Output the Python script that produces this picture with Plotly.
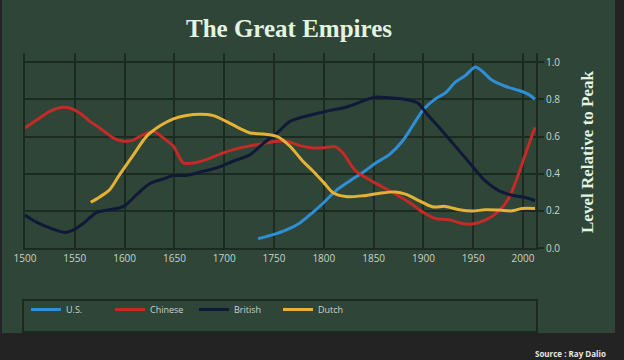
import plotly.graph_objects as go

# ---------------- data ----------------
us_years = [1734, 1749, 1763, 1776, 1789, 1800, 1812, 1826, 1839, 1851, 1866, 1879, 1889, 1900,
            1912, 1922, 1932, 1942, 1952, 1959, 1969, 1982, 1996, 2006, 2012]
us_vals = [0.05, 0.072, 0.099, 0.135, 0.192, 0.245, 0.308, 0.361, 0.406, 0.454, 0.504, 0.576, 0.657, 0.746,
           0.803, 0.835, 0.893, 0.928, 0.975, 0.952, 0.903, 0.871, 0.848, 0.826, 0.80]

cn_years = [1500, 1512, 1525, 1538, 1545, 1555, 1565, 1575, 1589, 1599, 1607, 1619, 1629, 1639, 1649,
            1659, 1669, 1682, 1699, 1716, 1736, 1753, 1763, 1776, 1789, 1800, 1811, 1819, 1832, 1851,
            1869, 1886, 1900, 1912, 1926, 1939, 1949, 1962, 1976, 1986, 1996, 2004, 2012]
cn_vals = [0.646, 0.69, 0.736, 0.758, 0.754, 0.727, 0.682, 0.646, 0.592, 0.575, 0.578, 0.61, 0.628, 0.592, 0.548,
           0.458, 0.458, 0.476, 0.512, 0.539, 0.56, 0.575, 0.575, 0.551, 0.539, 0.54, 0.546, 0.513, 0.415, 0.352,
           0.299, 0.245, 0.191, 0.159, 0.152, 0.132, 0.129, 0.150, 0.20, 0.272, 0.406, 0.531, 0.65]

br_years = [1500, 1512, 1525, 1540, 1547, 1559, 1572, 1585, 1599, 1612, 1625, 1639, 1649, 1662, 1676,
            1692, 1709, 1726, 1739, 1753, 1766, 1779, 1789, 1806, 1822, 1839, 1851, 1866, 1882, 1894,
            1904, 1916, 1929, 1946, 1962, 1976, 1989, 2002, 2012]
br_vals = [0.176, 0.138, 0.108, 0.084, 0.093, 0.135, 0.192, 0.206, 0.224, 0.287, 0.346, 0.372, 0.39, 0.391, 0.409,
           0.431, 0.467, 0.503, 0.562, 0.619, 0.682, 0.706, 0.719, 0.741, 0.758, 0.791, 0.812, 0.809, 0.80, 0.782,
           0.719, 0.648, 0.567, 0.46, 0.361, 0.308, 0.284, 0.272, 0.256]

du_years = [1566, 1575, 1585, 1595, 1609, 1622, 1636, 1649, 1662, 1676, 1689, 1702, 1716, 1726, 1739,
            1753, 1766, 1779, 1789, 1800, 1809, 1822, 1839, 1856, 1872, 1882, 1896, 1909, 1922, 1936,
            1949, 1962, 1976, 1989, 1999, 2012]
du_vals = [0.246, 0.275, 0.314, 0.395, 0.503, 0.601, 0.659, 0.695, 0.713, 0.72, 0.713, 0.682, 0.643, 0.619, 0.614,
           0.601, 0.548, 0.467, 0.415, 0.352, 0.299, 0.277, 0.281, 0.295, 0.302, 0.29, 0.254, 0.222, 0.224, 0.206,
           0.199, 0.206, 0.204, 0.20, 0.213, 0.213]

series_names = ["U.S.", "Chinese", "British", "Dutch"]
series_colors = ["#2e8fd6", "#c42a26", "#101a38", "#e6b236"]

x_ticks = [1500, 1550, 1600, 1650, 1700, 1750, 1800, 1850, 1900, 1950, 2000]
y_ticks = [0.0, 0.2, 0.4, 0.6, 0.8, 1.0]

# ---------------- layout helpers ----------------
W, H = 624, 360
L, R, T, B = 25, 88, 53, 112
PW, PH = W - L - R, H - T - B


def px(x):
    return (x - L) / PW


def py(y):
    return (H - B - y) / PH


GREEN = "#2f4538"
GRID = "#1c2b22"
TEXT = "#c9d3ca"

fig = go.Figure()
for name, xs, ys, col in zip(series_names,
                             [us_years, cn_years, br_years, du_years],
                             [us_vals, cn_vals, br_vals, du_vals],
                             series_colors):
    fig.add_trace(go.Scatter(x=xs, y=ys, name=name, mode="lines",
                             line=dict(color=col, width=3, shape="spline", smoothing=0.8),
                             hoverinfo="skip"))

shapes = [
    # green panel
    dict(type="rect", xref="paper", yref="paper", x0=px(2), x1=px(615), y0=py(333), y1=py(0),
         fillcolor=GREEN, line=dict(width=0), layer="below"),
    # legend box
    dict(type="rect", xref="paper", yref="paper", x0=px(23), x1=px(537), y0=py(332), y1=py(300),
         fillcolor="rgba(0,0,0,0)", line=dict(width=2, color=GRID), layer="below"),
]

annotations = [
    dict(text="<b>The Great Empires</b>", xref="paper", yref="paper", x=px(289), y=py(28),
         xanchor="center", yanchor="middle", showarrow=False,
         font=dict(family="Liberation Serif", size=25, color="#e3f4e1")),
    dict(text="<b>Level Relative to Peak</b>", xref="paper", yref="paper", x=px(587), y=py(152),
         xanchor="center", yanchor="middle", showarrow=False, textangle=-90,
         font=dict(family="Liberation Serif", size=17, color="#e3f4e1")),
    dict(text="<b>Source : Ray Dalio</b>", xref="paper", yref="paper", x=px(608), y=py(353),
         xanchor="right", yanchor="middle", showarrow=False,
         font=dict(family="Open Sans", size=8, color="#e6e6e6")),
]

fig.update_layout(
    width=W, height=H,
    margin=dict(l=L, r=R, t=T, b=B),
    paper_bgcolor="#232323",
    plot_bgcolor="rgba(0,0,0,0)",
    shapes=shapes,
    annotations=annotations,
    showlegend=True,
    legend=dict(orientation="h", x=px(26), y=py(295), xanchor="left", yanchor="top",
                bgcolor="rgba(0,0,0,0)", borderwidth=0,
                font=dict(family="Open Sans", size=9, color=TEXT),
                entrywidth=39, entrywidthmode="pixels", itemwidth=30),
    xaxis=dict(range=[1500, 2013], tickmode="array", tickvals=x_ticks,
               ticktext=[str(v) for v in x_ticks],
               showgrid=True, gridcolor=GRID, gridwidth=1.5,
               showline=True, linecolor=GRID, linewidth=2, zeroline=False,
               ticks="", tickfont=dict(family="Open Sans", size=10, color=TEXT)),
    yaxis=dict(range=[0, 1.05], side="right", tickmode="array", tickvals=y_ticks,
               ticktext=[f"{v:.1f}" for v in y_ticks],
               showgrid=True, gridcolor=GRID, gridwidth=1.5,
               showline=True, mirror=True, linecolor=GRID, linewidth=2, zeroline=False,
               ticks="outside", ticklen=6, tickcolor=GRID, tickwidth=1.5,
               tickfont=dict(family="Open Sans", size=10, color=TEXT)),
)

fig.write_html("out.html", config={"displayModeBar": False},
               post_script="document.body.style.margin='0';document.body.style.background='#232323';")
